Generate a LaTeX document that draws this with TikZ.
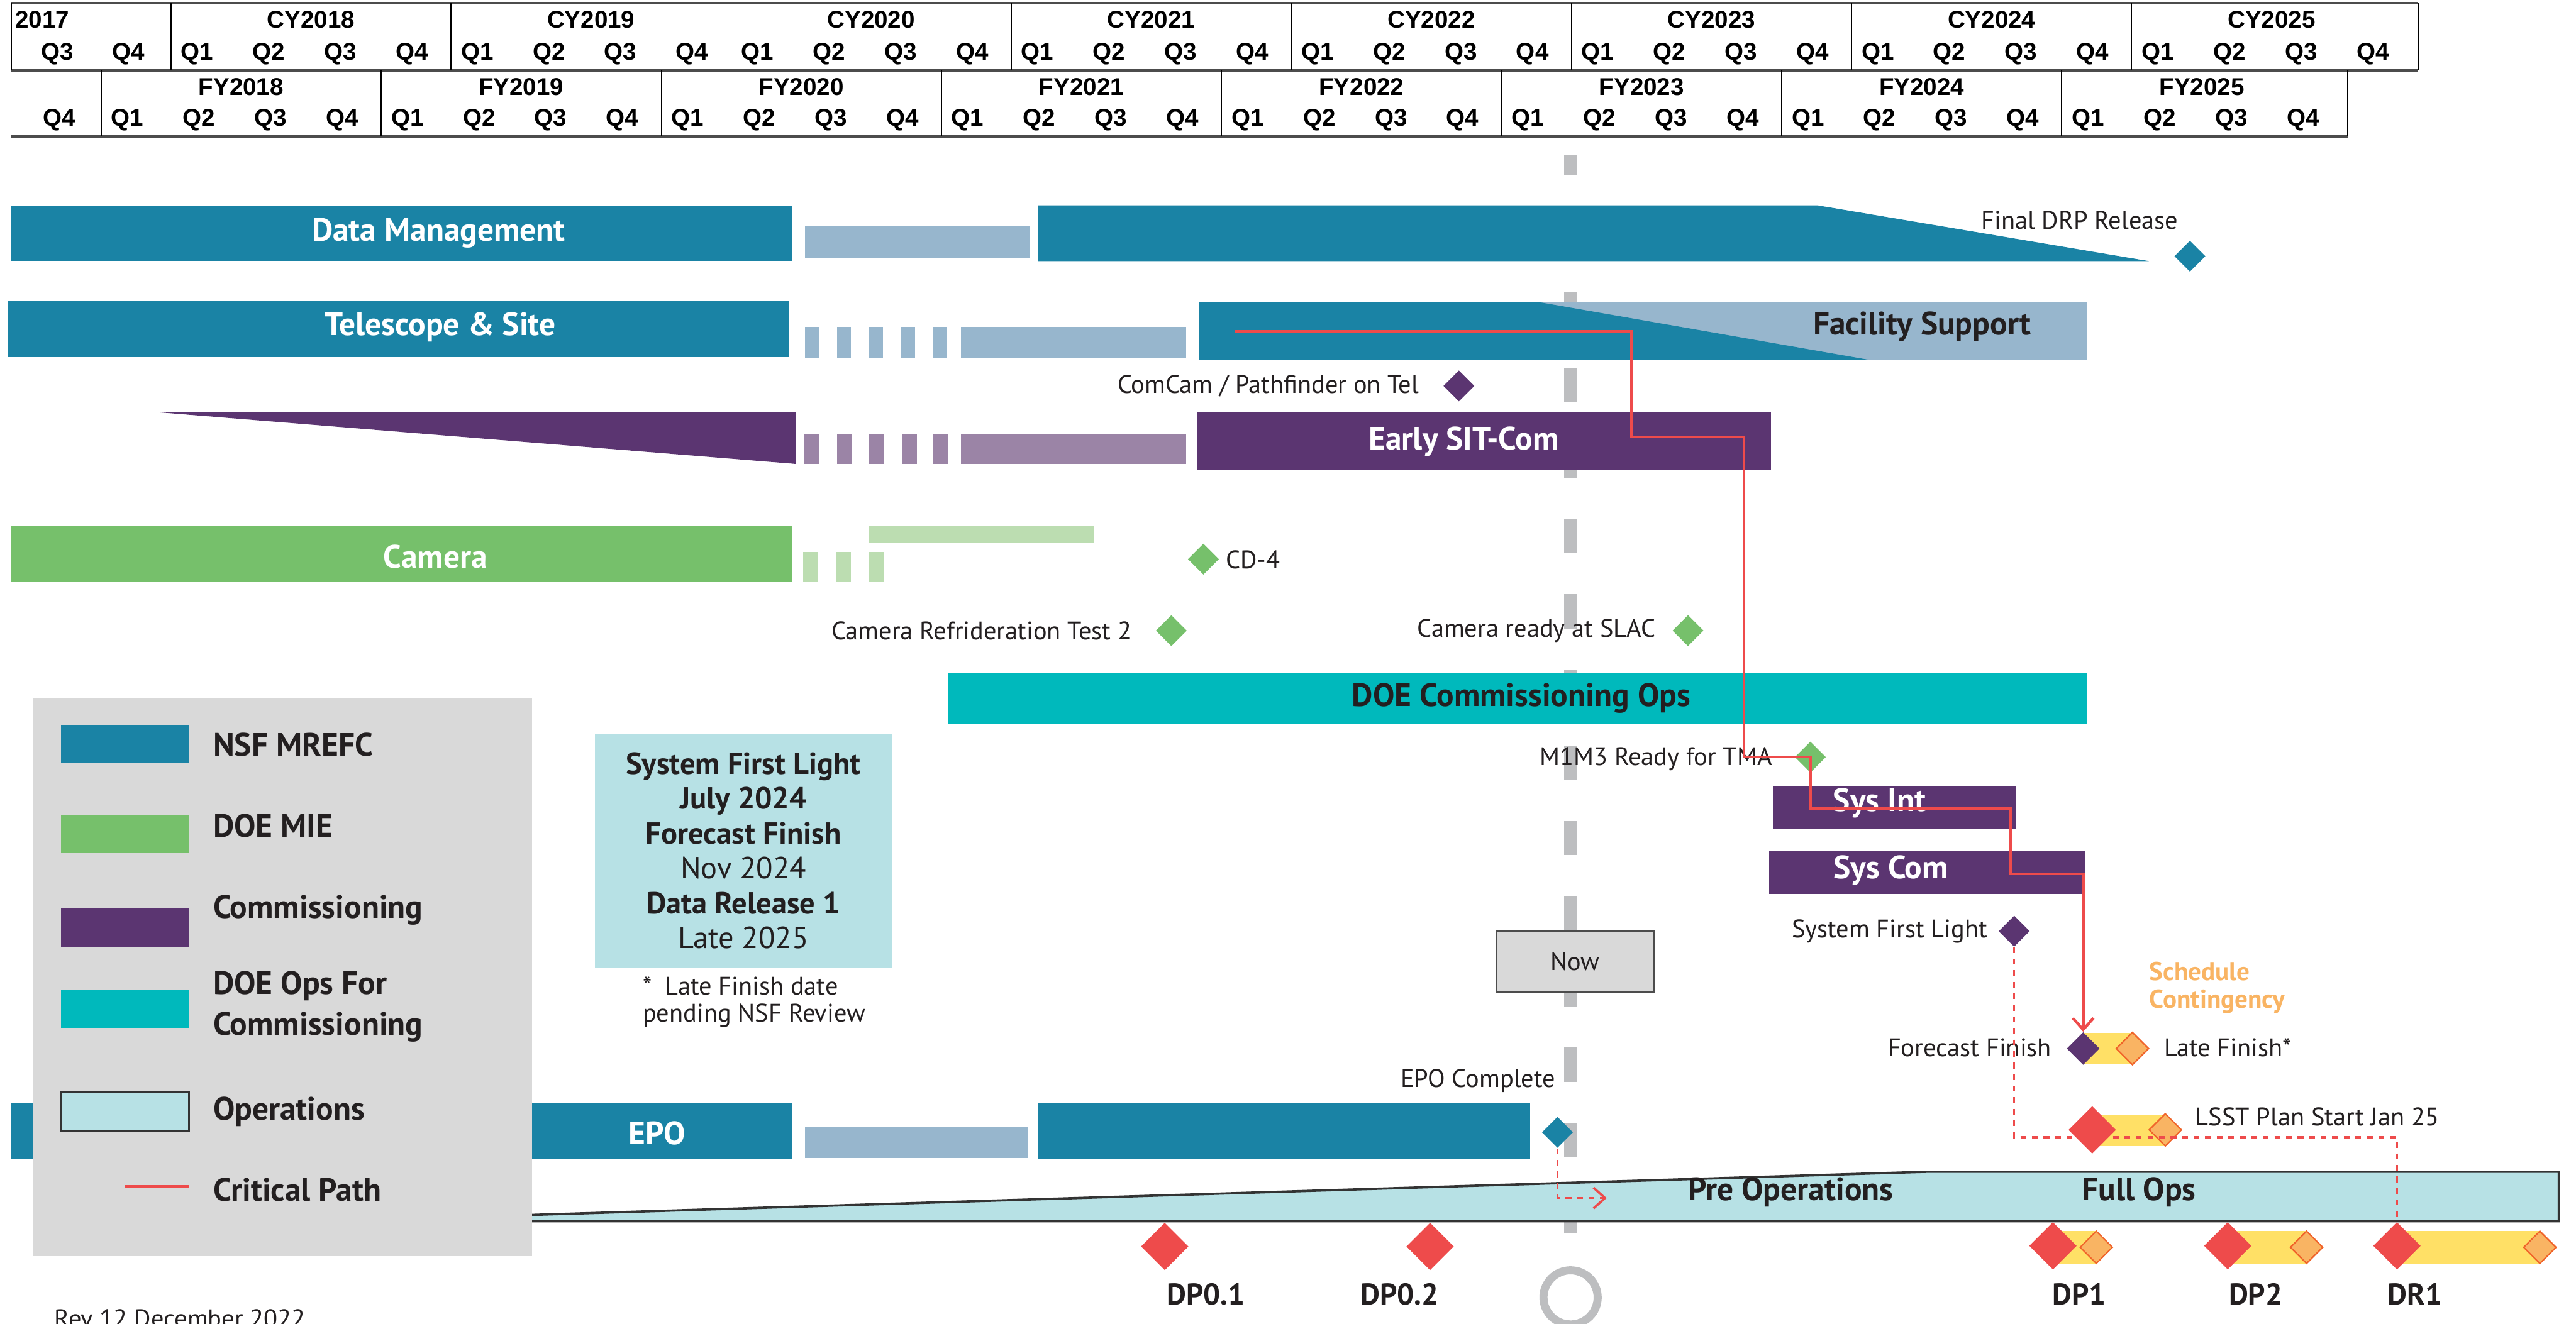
\documentclass[tikz,border=0pt]{standalone}
\usepackage{fontspec}
\setmainfont{PT Sans}
\newfontfamily\hdrfont{Liberation Sans}
\usetikzlibrary{shapes.geometric,arrows.meta,calc}

\definecolor{nsfblue}{HTML}{1A83A5}
\definecolor{paleblue}{HTML}{97B6CD}
\definecolor{compurple}{HTML}{5B3571}
\definecolor{palepurple}{HTML}{9B84A6}
\definecolor{miegreen}{HTML}{76C06B}
\definecolor{palegreen}{HTML}{BCDDB1}
\definecolor{opsteal}{HTML}{00B9BC}
\definecolor{opscyan}{HTML}{B7E1E5}
\definecolor{legendgray}{HTML}{D9D9D9}
\definecolor{nowgray}{HTML}{BDBEC0}
\definecolor{critred}{HTML}{EE4B4B}
\definecolor{contyellow}{HTML}{FFE066}
\definecolor{lateorange}{HTML}{F9B463}
\definecolor{lateedge}{HTML}{F0642A}
\definecolor{inkdark}{HTML}{231F20}

\newcommand{\px}{0.025cm}

\tikzset{
  hdr/.style={font=\hdrfont\bfseries\fontsize{10.5}{12}\selectfont, inner sep=0pt},
  barlabel/.style={font=\bfseries\fontsize{14}{16}\selectfont, text=white, inner sep=0pt},
  darklabel/.style={barlabel, text=inkdark},
  mslabel/.style={font=\fontsize{11}{13}\selectfont, text=inkdark, inner sep=0pt},
  legtext/.style={font=\bfseries\fontsize{14}{17.8}\selectfont, text=inkdark, anchor=west, inner sep=0pt, align=left},
  rellabel/.style={font=\bfseries\fontsize{13}{15}\selectfont, text=inkdark, inner sep=0pt},
  milestone/.style={diamond, inner sep=0pt, minimum width=19*\px, minimum height=19*\px, fill=#1},
  release/.style={diamond, inner sep=0pt, minimum width=29*\px, minimum height=29*\px, fill=critred},
  latefinish/.style={diamond, inner sep=0pt, minimum width=20*\px, minimum height=20*\px, fill=lateorange, draw=lateedge, line width=0.6pt},
  critpath/.style={draw=critred, line width=1.2pt},
  plandash/.style={draw=critred, line width=1pt, dash pattern=on 2.5pt off 2.5pt},
}

\begin{document}
\begin{tikzpicture}[x=\px, y=-\px]
\useasboundingbox (0,0) rectangle (1568,806);
\clip (0,0) rectangle (1568,806);
\fill[white] (0,0) rectangle (1568,806);

% calendar and fiscal year header
\draw[line width=1.2pt, black!70] (7,2) -- (1472,2);
\draw[line width=1.2pt, black!70] (7,43) -- (1472,43);
\draw[line width=1.2pt, black!70] (7,83) -- (1429,83);
\draw[line width=0.5pt] (7,2) -- (7,43);
\draw[line width=0.5pt] (1472,2) -- (1472,43);
\draw[line width=0.5pt] (1429,43) -- (1429,83);
\node[hdr, anchor=west] (cy2017) at (9,12) {2017};
\node[hdr] (cy2017-q3) at (35,33) {Q3};
\node[hdr] (cy2017-q4) at (78,33) {Q4};
\node[hdr] (fy2017-q4) at (36,73) {Q4};
\foreach \yr [count=\i from 0] in {2018,...,2025}{
  \pgfmathsetmacro{\cx}{104+170.5*\i}
  \pgfmathsetmacro{\fx}{61.5+170.5*\i}
  \draw[line width=0.5pt] (\cx,2) -- (\cx,43);
  \draw[line width=0.5pt] (\fx,43) -- (\fx,83);
  \node[hdr] (cy\yr) at (\cx+85.25,12) {CY\yr};
  \node[hdr] (fy\yr) at (\fx+85.25,53) {FY\yr};
  \foreach \q in {1,...,4}{
    \node[hdr] (cy\yr-q\q) at (\cx+16+43.6*\q-43.6,33) {Q\q};
    \node[hdr] (fy\yr-q\q) at (\fx+16+43.6*\q-43.6,73) {Q\q};
  }
}

% now line
\draw[nowgray, line width=5.7pt, dash pattern=on 14.9pt off 17.8pt, dash phase=5.7pt] (956,94) -- (956,756);
\draw[nowgray, line width=3.5pt] (956,790) circle[radius=16.5];

% data management
\fill[nsfblue] (7,125) rectangle (482,159);
\fill[paleblue] (490,138) rectangle (627,157);
\fill[nsfblue] (632,125) -- (1106,125) -- (1308,159) -- (632,159) -- cycle;
\node[barlabel] (dm) at (267,142) {Data Management};
\node[mslabel, anchor=east] (drplabel) at (1326,134) {Final DRP Release};
\node[milestone=nsfblue] (drp) at (1333,156) {};

% telescope and site
\fill[nsfblue] (5,183) rectangle (480,217.5);
\foreach \dx in {490,509.5,529,548.5,568}
  \fill[paleblue] (\dx,199) rectangle (\dx+8.5,218);
\fill[paleblue] (585,199) rectangle (722,218);
\fill[paleblue] (730,184) rectangle (1270,219);
\fill[nsfblue] (730,184) -- (937,184) -- (1137,219) -- (730,219) -- cycle;
\node[barlabel] (ts) at (268,199) {Telescope \& Site};
\node[darklabel] (facsup) at (1170,199) {Facility Support};
\node[milestone=compurple] (comcam) at (888,235) {};
\node[mslabel, anchor=east] (comcamlabel) at (864,235) {ComCam / Pathfinder on Tel};

% commissioning
\fill[compurple] (96,251) -- (484.5,251) -- (484.5,282.5) -- cycle;
\foreach \dx in {489.5,509.5,529,549,568}
  \fill[palepurple] (\dx,264) rectangle (\dx+9,282.5);
\fill[palepurple] (585,264) rectangle (722,282.5);
\fill[compurple] (729,251) rectangle (1078,286);
\node[barlabel] (sitcom) at (891,269) {Early SIT-Com};

% camera
\fill[miegreen] (7,320) rectangle (482,354);
\fill[palegreen] (529,320) rectangle (666,330.5);
\foreach \dx in {489,509,529}
  \fill[palegreen] (\dx,336) rectangle (\dx+9,354);
\node[barlabel] (cam) at (265,339) {Camera};
\node[milestone=miegreen] (cd4) at (732.5,340.5) {};
\node[mslabel, anchor=west] (cd4label) at (746,341) {CD-4};
\node[milestone=miegreen] (refrig) at (713,384) {};
\node[mslabel, anchor=east] (refriglabel) at (689,384) {Camera Refrideration Test 2};
\node[milestone=miegreen] (slac) at (1027.5,384) {};
\node[mslabel, anchor=east] (slaclabel) at (1008,384) {Camera ready at SLAC};

% doe commissioning ops
\fill[opsteal] (577,409.5) rectangle (1270,440.5);
\node[darklabel] (doeops) at (926,425) {DOE Commissioning Ops};
\node[milestone=miegreen] (m1m3) at (1102,461) {};
\node[mslabel, anchor=east] (m1m3label) at (1079,462) {M1M3 Ready for TMA};

% system integration and commissioning
\fill[compurple] (1079,478.5) rectangle (1227,505);
\node[barlabel] (sysint) at (1144,489) {Sys Int};
\fill[compurple] (1077,518) rectangle (1269,544.5);
\node[barlabel] (syscom) at (1151,530) {Sys Com};
\node[milestone=compurple] (sfl) at (1226,567) {};
\node[mslabel, anchor=east] (sfllabel) at (1210,567) {System First Light};

\node[draw=black!70, line width=0.8pt, fill=legendgray, minimum width=95.5*\px, minimum height=37*\px, font=\fontsize{11}{13}\selectfont, text=inkdark] (now) at (958.75,585.5) {Now};

% contingency
\node[font=\bfseries\fontsize{11.2}{12.2}\selectfont, text=lateorange, align=left, anchor=west, inner sep=0pt] (schedcont) at (1308,601.5) {Schedule\\Contingency};
\fill[contyellow] (1268,629) rectangle (1298,648);
\node[latefinish] (late) at (1298,638.5) {};
\node[milestone=compurple, minimum width=20*\px, minimum height=20*\px] (ff) at (1268,638.5) {};
\node[mslabel, anchor=east] (fflabel) at (1249,638) {Forecast Finish};
\node[mslabel, anchor=west] (latelabel) at (1317,638) {Late Finish*};

\fill[contyellow] (1273.5,679) rectangle (1318,698);
\node[latefinish] (lsstlate) at (1318,688) {};
\node[release] (lsst) at (1273.5,688) {};
\node[mslabel, anchor=west] (lsstlabel) at (1336,680) {LSST Plan Start Jan 25};

% epo
\fill[nsfblue] (7,671.5) rectangle (482,706);
\fill[paleblue] (490,686.5) rectangle (626,705);
\fill[nsfblue] (632,671.5) rectangle (931.5,706);
\node[barlabel] (epo) at (400,690) {EPO};
\node[milestone=nsfblue] (epoc) at (948,689.5) {};
\node[mslabel, anchor=east] (epoclabel) at (947,658) {EPO Complete};

% operations
\filldraw[fill=opscyan, draw=black!80, line width=1pt] (200,743.6) -- (1173,713.5) -- (1557.5,713.5) -- (1557.5,743.6) -- cycle;
\node[darklabel] (preops) at (1090,726) {Pre Operations};
\node[darklabel] (fullops) at (1302,726) {Full Ops};

% data previews and releases
\node[release] (dp01) at (709,759) {};
\node[rellabel] (dp01label) at (734,788) {DP0.1};
\node[release] (dp02) at (870.5,759) {};
\node[rellabel] (dp02label) at (852,788) {DP0.2};
\foreach \nm/\rx/\lx/\tx in {DP1/1249.6/1276/1265.5, DP2/1356/1404/1373, DR1/1459/1546/1470}{
  \fill[contyellow] (\rx,749.6) rectangle (\lx,769.5);
  \node[latefinish] (\nm late) at (\lx,759.5) {};
  \node[release] (\nm) at (\rx,758.6) {};
  \node[rellabel] (\nm label) at (\tx,788) {\nm};
}

% critical path
\coordinate (cpstart) at (752,202);
\coordinate (cpsit) at (993,266);
\coordinate (cpdoe) at (1061.5,461);
\coordinate (cpint) at (1224,492.5);
\coordinate (cpcom) at (1268,532);
\draw[critpath, -{Straight Barb[length=5pt,width=9pt]}] (cpstart) -| (cpsit) -| (cpdoe) -- (m1m3.center) |- (cpint) |- (cpcom) -- (ff.north);

% plan links
\coordinate (planrow) at (1000,692.5);
\draw[plandash] (sfl.south) |- (DR1 |- planrow) -- (DR1.north);
\coordinate (preoparrow) at (978,729.5);
\draw[plandash, -{Straight Barb[length=5pt,width=9pt]}] (epoc.south) |- (preoparrow);

% legend
\fill[legendgray] (20.4,425) rectangle (323.7,764.7);
\fill[nsfblue] (37,441.6) rectangle (115,464.8);
\fill[miegreen] (37,496) rectangle (115,519.6);
\fill[compurple] (37,552.6) rectangle (115,576.6);
\fill[opsteal] (37,603) rectangle (115,626);
\filldraw[fill=opscyan, draw=black!80, line width=0.8pt] (37,665) rectangle (115,688.6);
\draw[critred, line width=1.5pt] (76,722.6) -- (115,722.6);
\node[legtext] (legnsf) at (129.5,453.5) {NSF MREFC};
\node[legtext] (legmie) at (129.5,503) {DOE MIE};
\node[legtext] (legcom) at (129.5,554) {Commissioning};
\node[legtext] (legdoe) at (129.5,613) {DOE Ops For\\Commissioning};
\node[legtext] (legops) at (129.5,677) {Operations};
\node[legtext] (legcrit) at (129.5,724.5) {Critical Path};

% summary box
\node[fill=opscyan, minimum width=181*\px, minimum height=142*\px, align=center, font=\fontsize{13.2}{15.1}\selectfont, text=inkdark, inner sep=0pt] (infobox) at (452.5,518) {\textbf{System First Light}\\\textbf{July 2024}\\\textbf{Forecast Finish}\\Nov 2024\\\textbf{Data Release 1}\\Late 2025};
\node[font=\fontsize{11}{11.7}\selectfont, text=inkdark, align=left, anchor=west, inner sep=0pt] (footnote) at (391,610) {*\ \ Late Finish date\\pending NSF Review};

\node[mslabel, anchor=west] (rev) at (33,803) {Rev 12 December 2022};
\end{tikzpicture}
\end{document}
